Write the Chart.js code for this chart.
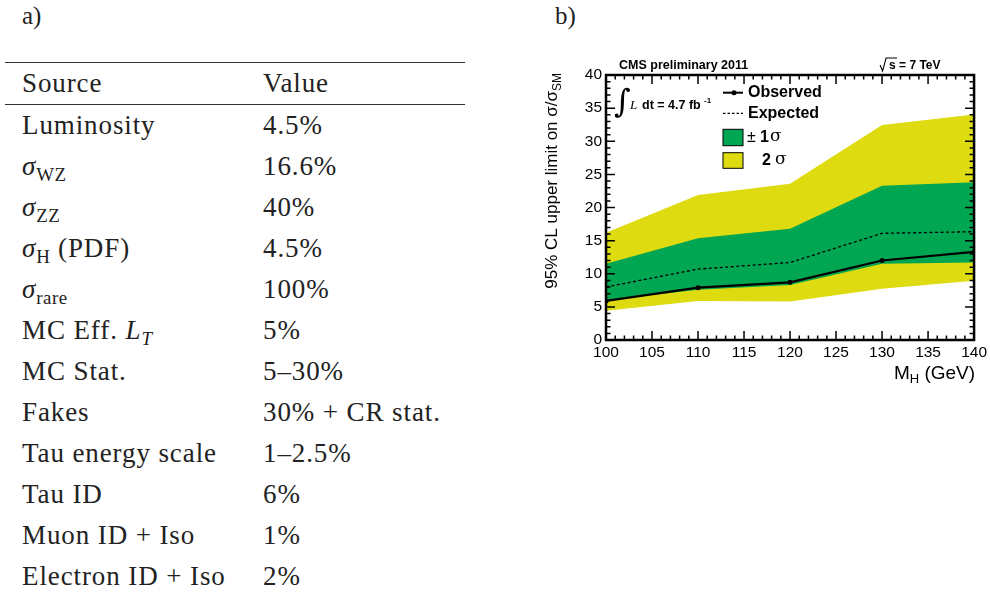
<!DOCTYPE html>
<html>
<head>
<meta charset="utf-8">
<script src="https://cdn.jsdelivr.net/npm/chart.js@4/dist/chart.umd.min.js"></script>
<style>
  body { margin: 0; background: #fff; width: 990px; height: 594px; overflow: hidden; position: relative; }
  .lbl { position: absolute; font-family: "Liberation Serif", serif; font-size: 25px; color: #222; }
  #tbl { position: absolute; left: 5px; top: 62px; width: 460px; border-collapse: collapse;
         font-family: "Liberation Serif", serif; font-size: 27px; letter-spacing: 0.9px; color: #222; }
  #tbl th, #tbl td { text-align: left; font-weight: normal; padding: 0 0 0 17px; height: 41px; white-space: nowrap; }
  #tbl td.v, #tbl th.v { padding-left: 0; }
  #tbl thead tr { border-top: 1.5px solid #333; border-bottom: 1.5px solid #333; }
  sub { font-size: 70%; vertical-align: -0.3em; line-height: 0; letter-spacing: 0.5px; }
  #wrap { position: absolute; left: 520px; top: 30px; width: 470px; height: 380px; }
</style>
</head>
<body>
<div class="lbl" style="left:22px; top:2px;">a)</div>
<div class="lbl" style="left:555px; top:2px;">b)</div>
<table id="tbl">
  <colgroup><col style="width:258px"><col></colgroup>
  <thead><tr><th>Source</th><th class="v">Value</th></tr></thead>
  <tbody id="rows"></tbody>
</table>
<div id="wrap"><canvas id="limitChart"></canvas></div>
<script>
// table a)
const sources = ['Luminosity', '<i>σ</i><sub>WZ</sub>', '<i>σ</i><sub>ZZ</sub>', '<i>σ</i><sub>H</sub> (PDF)',
  '<i>σ</i><sub>rare</sub>', 'MC Eff. <i>L<sub>T</sub></i>', 'MC Stat.', 'Fakes', 'Tau energy scale',
  'Tau ID', 'Muon ID + Iso', 'Electron ID + Iso'];
const values = ['4.5%', '16.6%', '40%', '4.5%', '100%', '5%', '5–30%', '30% + CR stat.', '1–2.5%', '6%', '1%', '2%'];

// chart b)
const massPoints = [100, 110, 120, 130, 140];
const observed = [5.9, 7.9, 8.7, 12.0, 13.3];
const expected = [8.0, 10.7, 11.7, 16.1, 16.35];
const band1Lo = [6.0, 7.6, 8.3, 11.5, 11.7];
const band1Hi = [11.5, 15.35, 16.8, 23.3, 23.8];
const band2Lo = [4.4, 5.9, 5.8, 7.75, 8.95];
const band2Hi = [16.2, 21.9, 23.6, 32.45, 34.05];

const GREEN = '#00a651';
const YELLOW = '#dedb10';
const SANS = '"Liberation Sans", Arial, sans-serif';

let rowsHtml = '';
for (let i = 0; i < sources.length; i++) {
  rowsHtml += `<tr><td>${sources[i]}</td><td class="v">${values[i]}</td></tr>`;
}
document.getElementById('rows').innerHTML = rowsHtml;

function pts(arr) {
  return massPoints.map((m, i) => ({ x: m, y: arr[i] }));
}

// ROOT style frame, inward ticks, legend and labels
const rootStyle = {
  id: 'rootStyle',
  afterDraw(chart) {
    const ctx = chart.ctx;
    const a = chart.chartArea;
    const xs = chart.scales.x, ys = chart.scales.y;
    ctx.save();
    ctx.strokeStyle = '#000';
    ctx.lineWidth = 1.5;
    ctx.beginPath();
    for (let v = 100; v <= 140; v++) {
      const px = xs.getPixelForValue(v);
      const len = v % 5 === 0 ? 9 : 4.5;
      ctx.moveTo(px, a.bottom); ctx.lineTo(px, a.bottom - len);
      ctx.moveTo(px, a.top); ctx.lineTo(px, a.top + len);
    }
    for (let v = 0; v <= 40; v++) {
      const py = ys.getPixelForValue(v);
      const len = v % 5 === 0 ? 9 : 4.5;
      ctx.moveTo(a.left, py); ctx.lineTo(a.left + len, py);
      ctx.moveTo(a.right, py); ctx.lineTo(a.right - len, py);
    }
    ctx.stroke();
    ctx.lineWidth = 2.5;
    ctx.strokeRect(a.left, a.top, a.right - a.left, a.bottom - a.top);

    ctx.fillStyle = '#000';
    ctx.textBaseline = 'middle';
    // header texts
    ctx.font = 'bold 12.5px ' + SANS;
    ctx.fillText('CMS preliminary 2011', a.left + 13, a.top - 9);
    ctx.font = 'bold 12px ' + SANS;
    ctx.fillText('s = 7 TeV', a.right - 85, a.top - 9);
    ctx.lineWidth = 1.1;
    ctx.beginPath();
    ctx.moveTo(a.right - 94, a.top - 10); ctx.lineTo(a.right - 91.5, a.top - 4);
    ctx.lineTo(a.right - 88, a.top - 17); ctx.lineTo(a.right - 77, a.top - 17);
    ctx.stroke();

    // luminosity
    ctx.font = 'italic 32px "DejaVu Serif", serif';
    ctx.fillText('∫', a.left + 8, a.top + 29);
    ctx.font = 'italic 13px "Liberation Serif", serif';
    ctx.fillText('L', a.left + 24, a.top + 31);
    ctx.font = 'bold 12.5px ' + SANS;
    ctx.fillText('dt = 4.7 fb', a.left + 36, a.top + 31);
    ctx.font = 'bold 8px ' + SANS;
    ctx.fillText('-1', a.left + 98, a.top + 26);

    // legend
    const lx = 723 - 520, ly = 30;
    ctx.strokeStyle = '#000';
    ctx.lineWidth = 2;
    ctx.beginPath(); ctx.moveTo(lx, 92.7 - ly); ctx.lineTo(lx + 20, 92.7 - ly); ctx.stroke();
    ctx.beginPath(); ctx.arc(lx + 11, 92.7 - ly, 2.5, 0, Math.PI * 2); ctx.fill();
    ctx.lineWidth = 1.3;
    ctx.setLineDash([2.5, 2]);
    ctx.beginPath(); ctx.moveTo(lx, 113.3 - ly); ctx.lineTo(lx + 20, 113.3 - ly); ctx.stroke();
    ctx.setLineDash([]);
    ctx.font = 'bold 16px ' + SANS;
    ctx.fillText('Observed', lx + 25, 93 - ly);
    ctx.fillText('Expected', lx + 25, 114 - ly);
    ctx.lineWidth = 1;
    ctx.fillStyle = GREEN;
    ctx.fillRect(lx, 129.3 - ly, 20, 16.4);
    ctx.strokeRect(lx, 129.3 - ly, 20, 16.4);
    ctx.fillStyle = YELLOW;
    ctx.fillRect(lx, 152.7 - ly, 20, 15.6);
    ctx.strokeRect(lx, 152.7 - ly, 20, 15.6);
    ctx.fillStyle = '#000';
    ctx.font = '16px ' + SANS;
    ctx.fillText('±', lx + 24, 138 - ly);
    ctx.font = 'bold 16px ' + SANS;
    ctx.fillText('1', lx + 37, 138 - ly);
    ctx.fillText('2', lx + 39, 161 - ly);
    ctx.font = '17px "DejaVu Serif", serif';
    ctx.fillText('σ', lx + 47, 137 - ly);
    ctx.fillText('σ', lx + 52, 160 - ly);

    // axis titles
    ctx.textAlign = 'right';
    ctx.textBaseline = 'alphabetic';
    const tx = a.right + 1;
    ctx.font = '19px ' + SANS;
    ctx.fillText('(GeV)', tx, 379 - ly);
    const gw = ctx.measureText(' (GeV)').width;
    ctx.font = '13px ' + SANS;
    ctx.fillText('H', tx - gw, 383 - ly);
    const hw = ctx.measureText('H').width;
    ctx.font = '19px ' + SANS;
    ctx.fillText('M', tx - gw - hw, 379 - ly);

    ctx.translate(557 - 520, 73 - ly);
    ctx.rotate(-Math.PI / 2);
    ctx.textAlign = 'right';
    ctx.font = '12px ' + SANS;
    ctx.fillText('SM', 0, 4);
    const sw = ctx.measureText('SM').width;
    ctx.font = '17px ' + SANS;
    ctx.fillText('95% CL upper limit on σ/σ', -sw, 0);
    ctx.restore();
  }
};

new Chart(document.getElementById('limitChart'), {
  type: 'line',
  data: {
    datasets: [
      { label: 'Observed', data: pts(observed), borderColor: '#000', backgroundColor: '#000',
        borderWidth: 2.2, pointRadius: 2.5, pointBorderWidth: 0, fill: false, order: 0 },
      { label: 'Expected', data: pts(expected), borderColor: '#000', borderWidth: 1.3,
        borderDash: [3, 2.5], pointRadius: 0, fill: false, order: 1 },
      { label: '1 sigma up', data: pts(band1Hi), borderWidth: 0, pointRadius: 0,
        backgroundColor: GREEN, fill: 3, order: 2 },
      { label: '1 sigma down', data: pts(band1Lo), borderWidth: 0, pointRadius: 0, fill: false, order: 2 },
      { label: '2 sigma up', data: pts(band2Hi), borderWidth: 0, pointRadius: 0,
        backgroundColor: YELLOW, fill: 5, order: 3 },
      { label: '2 sigma down', data: pts(band2Lo), borderWidth: 0, pointRadius: 0, fill: false, order: 3 }
    ]
  },
  options: {
    responsive: true,
    maintainAspectRatio: false,
    animation: false,
    layout: { padding: { top: 45, right: 10, bottom: 0, left: 0 } },
    plugins: { legend: { display: false }, tooltip: { enabled: false } },
    elements: { line: { tension: 0 } },
    scales: {
      x: {
        type: 'linear', min: 100, max: 140,
        grid: { display: false, drawTicks: false },
        border: { display: false },
        ticks: { stepSize: 5, padding: 3, color: '#000', font: { family: SANS, size: 15.5 }, maxRotation: 0 },
        afterFit: s => { s.height = 70; }
      },
      y: {
        min: 0, max: 40,
        grid: { display: false, drawTicks: false },
        border: { display: false },
        ticks: { stepSize: 5, padding: 4, color: '#000', font: { family: SANS, size: 15.5 } },
        afterFit: s => { s.width = 86; }
      }
    }
  },
  plugins: [rootStyle]
});
</script>
</body>
</html>
